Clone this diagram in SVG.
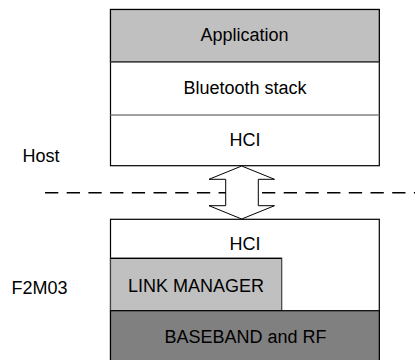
<svg xmlns="http://www.w3.org/2000/svg" width="415" height="360" viewBox="0 0 415 360">
<style>
text{font-family:"Liberation Sans",Arial,sans-serif;font-size:18px;fill:#000}
.c{text-anchor:middle}
.box{stroke:#000;stroke-width:1.2}
</style>
<rect width="415" height="360" fill="#fff"/>
<g id="labels">
<text x="22.5" y="161.5">Host</text>
<text x="11.5" y="294">F2M03</text>
</g>
<g id="host-stack">
<rect x="110.5" y="9.5" width="268.8" height="156.2" fill="#fff" class="box"/>
<rect x="110.5" y="9.5" width="268.8" height="52.2" fill="#c0c0c0" class="box"/>
<line x1="110.5" y1="61.7" x2="379.3" y2="61.7" stroke="#404040" stroke-width="1.4"/>
<line x1="110.5" y1="115" x2="379.3" y2="115" stroke="#808080" stroke-width="1.4"/>
<text class="c" x="244.5" y="40.5">Application</text>
<text class="c" x="245" y="93.5">Bluetooth stack</text>
<text class="c" x="245" y="146">HCI</text>
</g>
<g id="connectors">
<line x1="45" y1="192.7" x2="415" y2="192.7" stroke="#000" stroke-width="1.5" stroke-dasharray="13.3 8.4"/>
<polygon points="241.7,166 274.5,179.3 258.3,179.3 258.3,205.7 274.5,205.7 241.7,219 209,205.7 225.7,205.7 225.7,179.3 209,179.3" fill="#fff" stroke="#000" stroke-width="1"/>
</g>
<g id="device-stack">
<rect x="110.5" y="219.3" width="268.8" height="145" fill="#fff" class="box"/>
<text class="c" x="245" y="249.5">HCI</text>
<rect x="110.5" y="258.3" width="171.2" height="52.4" fill="#c0c0c0" stroke="#404040" stroke-width="1.2"/>
<line x1="110.5" y1="258.3" x2="281.7" y2="258.3" stroke="#000" stroke-width="1.2"/>
<text class="c" x="196" y="292">LINK MANAGER</text>
<rect x="110.5" y="310.7" width="268.8" height="55" fill="#808080" class="box"/>
<text class="c" x="245.5" y="342.5">BASEBAND and RF</text>
</g>
</svg>
